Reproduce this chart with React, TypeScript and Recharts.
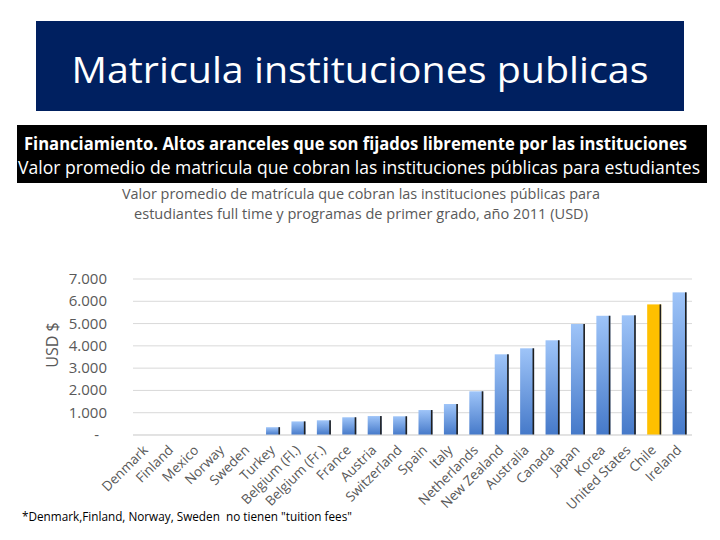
import React from 'react';
import { BarChart, Bar, XAxis, YAxis, CartesianGrid } from 'recharts';

const countries = ['Denmark', 'Finland', 'Mexico', 'Norway', 'Sweden', 'Turkey', 'Belgium (Fl.)', 'Belgium (Fr.)', 'France', 'Austria', 'Switzerland', 'Spain', 'Italy', 'Netherlands', 'New Zealand', 'Australia', 'Canada', 'Japan', 'Korea', 'United States', 'Chile', 'Ireland'];
const tuition = [0, 0, 0, 0, 0, 350, 610, 660, 795, 850, 840, 1120, 1390, 1960, 3620, 3890, 4250, 4980, 5350, 5370, 5860, 6400];
const yTicks = [0, 1000, 2000, 3000, 4000, 5000, 6000, 7000];

const pageTitle = 'Matricula instituciones publicas';
const boxLine1 = 'Financiamiento. Altos aranceles que son fijados libremente por las instituciones';
const boxLine2 = 'Valor promedio de matricula que cobran las instituciones públicas para estudiantes';
const chartTitle1 = 'Valor promedio de matrícula que cobran las instituciones públicas para';
const chartTitle2 = 'estudiantes full time y programas de primer grado, año 2011 (USD)';
const yLabel = 'USD $';
const footnote = '*Denmark,Finland, Norway, Sweden  no tienen "tuition fees"';
const highlighted = 'Chile';

const data = countries.map((c, i) => ({ country: c, value: tuition[i] }));

const FONT = 'Open Sans, sans-serif';
const GREY = '#595959';

const fmt = (v: number) => (v === 0 ? '-' : v.toLocaleString('de-DE'));

const YTick = (props: any) => {
  const { x, y, payload } = props;
  const isZero = payload.value === 0;
  return (
    <text x={isZero ? x - 34 : x - 26} y={y} dy={5} textAnchor="end" fontFamily={FONT} fontSize={15} fill={GREY}>
      {fmt(payload.value)}
    </text>
  );
};

const XTick = (props: any) => {
  const { x, y, payload } = props;
  return (
    <g transform={`translate(${x + 3},${y + 14}) rotate(-45)`}>
      <text x={0} y={0} textAnchor="end" fontFamily={FONT} fontSize={13.5} fill={GREY}>
        {payload.value}
      </text>
    </g>
  );
};

const BarShape = (props: any) => {
  const { x, y, width, height, payload } = props;
  if (!height || height <= 0) return null;
  const isHi = payload && payload.country === highlighted;
  return (
    <g>
      <rect x={x} y={y} width={width} height={height} fill={isHi ? '#FFC000' : 'url(#barGrad)'} />
      <rect x={x + width - 1.6} y={y} width={1.6} height={height} fill="#1f1f1f" />
    </g>
  );
};

export default function App() {
  return (
    <div style={{ position: 'absolute', left: 0, top: 0, width: 720, height: 540, background: '#fff', overflow: 'hidden' }}>
      <div style={{ position: 'absolute', left: 0, top: 0 }}>
        <BarChart width={720} height={540} data={data} margin={{ top: 279, right: 28, bottom: 0, left: 0 }}>
          <defs>
            <linearGradient id="barGrad" x1="0" y1="0" x2="0" y2="1">
              <stop offset="0%" stopColor="#9EC4F8" />
              <stop offset="100%" stopColor="#4579C9" />
            </linearGradient>
          </defs>
          <CartesianGrid vertical={false} stroke="#D9D9D9" />
          <XAxis dataKey="country" interval={0} tickLine={false} tickSize={0} axisLine={{ stroke: '#D9D9D9' }} tick={<XTick />} height={105} />
          <YAxis width={133} domain={[0, 7000]} ticks={yTicks} interval={0} axisLine={false} tickLine={false} tickSize={0} tickMargin={0} tick={<YTick />} />
          <Bar dataKey="value" barSize={14} isAnimationActive={false} shape={<BarShape />} />
        </BarChart>
      </div>
      <svg width={720} height={540} style={{ position: 'absolute', left: 0, top: 0, pointerEvents: 'none' }}>
        <rect x={36} y={21} width={648} height={90} fill="#002060" />
        <text x={360} y={83} textAnchor="middle" fontFamily={FONT} fontSize={37} fill="#fff" textLength={577} lengthAdjust="spacingAndGlyphs">{pageTitle}</text>
        <rect x={17} y={125} width={690} height={58} fill="#000" />
        <text x={24} y={150} fontFamily={FONT} fontSize={17} fontWeight="bold" fill="#fff" textLength={663} lengthAdjust="spacingAndGlyphs">{boxLine1}</text>
        <text x={18} y={174} fontFamily={FONT} fontSize={18} fill="#fff" textLength={682} lengthAdjust="spacingAndGlyphs">{boxLine2}</text>
        <text x={361} y={199} textAnchor="middle" fontFamily={FONT} fontSize={15} fill={GREY} textLength={478} lengthAdjust="spacingAndGlyphs">{chartTitle1}</text>
        <text x={361} y={219} textAnchor="middle" fontFamily={FONT} fontSize={15} fill={GREY} textLength={454} lengthAdjust="spacingAndGlyphs">{chartTitle2}</text>
        <text x={0} y={0} transform="translate(58,345) rotate(-90)" textAnchor="middle" fontFamily={FONT} fontSize={16} fill={GREY}>{yLabel}</text>
        <text x={22} y={521} fontFamily={FONT} fontSize={12.5} fill="#000" style={{ whiteSpace: 'pre' }} textLength={330} lengthAdjust="spacingAndGlyphs">{footnote}</text>
      </svg>
    </div>
  );
}
